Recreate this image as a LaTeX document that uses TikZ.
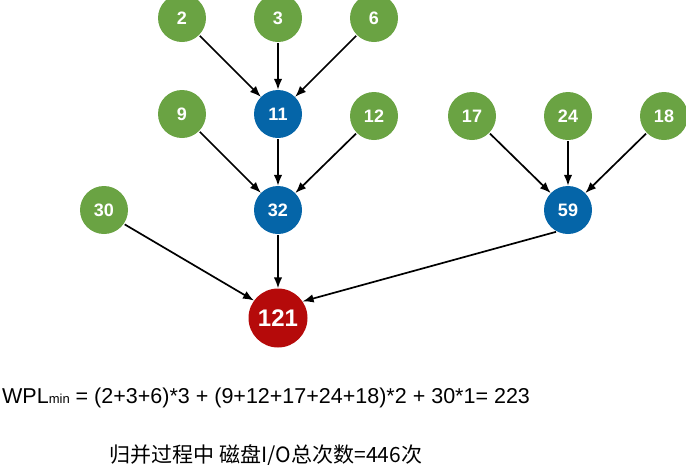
\documentclass[tikz,border=0pt]{standalone}
\usepackage{fontspec}
\setmainfont{Liberation Sans}
\newfontfamily\cjk{Noto Sans CJK SC}
\usetikzlibrary{arrows.meta}
\definecolor{leafgreen}{HTML}{6AA343}
\definecolor{midblue}{HTML}{0565A8}
\definecolor{rootred}{HTML}{B50A0A}
\begin{document}
\begin{tikzpicture}[x=1pt,y=-1pt,
  leaf/.style={circle,fill=leafgreen,minimum size=48pt,inner sep=0pt,text=white,font=\fontsize{18}{18}\selectfont\bfseries},
  mid/.style={leaf,fill=midblue},
  root/.style={circle,fill=rootred,minimum size=59pt,inner sep=0pt,text=white,font=\fontsize{24}{24}\selectfont\bfseries},
  arr/.style={-{Latex[length=11pt,width=8.5pt]},line width=1.7pt,black,shorten <=1pt}]
\useasboundingbox (0,0) rectangle (686,464);
\clip (0,0) rectangle (686,464);
\node[leaf] (n2) at (182,18) {2};
\node[leaf] (n3) at (278,18) {3};
\node[leaf] (n6) at (374,18) {6};
\node[leaf] (n9) at (182,114) {9};
\node[mid] (n11) at (278,114) {11};
\node[leaf] (n12) at (374,116) {12};
\node[leaf] (n17) at (472,116) {17};
\node[leaf] (n24) at (568,116) {24};
\node[leaf] (n18) at (664,116) {18};
\node[leaf] (n30) at (104,210) {30};
\node[mid] (n32) at (278,210) {32};
\node[mid] (n59) at (568,210) {59};
\node[root] (n121) at (278,318) {121};
\draw[arr] (n2) -- (n11);
\draw[arr] (n3) -- (n11);
\draw[arr] (n6) -- (n11);
\draw[arr] (n9) -- (n32);
\draw[arr] (n11) -- (n32);
\draw[arr] (n12) -- (n32);
\draw[arr] (n17) -- (n59);
\draw[arr] (n24) -- (n59);
\draw[arr] (n18) -- (n59);
\draw[arr] (n32) -- (n121);
\draw[arr] (n30.-35) -- (n121.144);
\draw[arr] (n59.243) -- (n121.34);
\node[anchor=base west,inner sep=0pt,font=\fontsize{21.5}{21.5}\selectfont] (wpl) at (2,403)
  {WPL{\fontsize{13}{13}\selectfont min} = (2+3+6)*3 + (9+12+17+24+18)*2 + 30*1= 223};
\node[anchor=base,inner sep=0pt,font=\cjk\fontsize{21}{21}\selectfont] (io) at (266,462)
  {归并过程中 磁盘I/O总次数=446次};
\end{tikzpicture}
\end{document}
